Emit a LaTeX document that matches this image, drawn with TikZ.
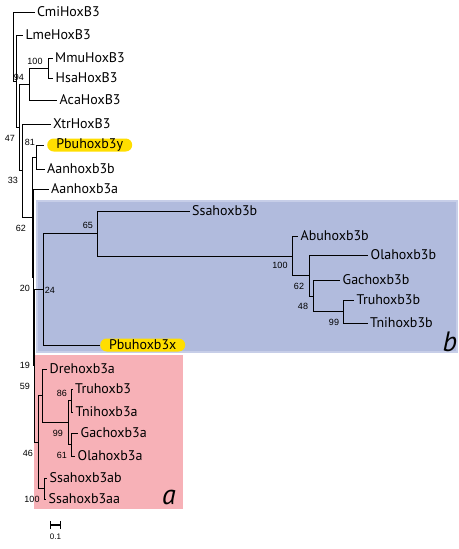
\documentclass[tikz,border=0pt]{standalone}
\usepackage{fontspec}
\setmainfont{PT Sans}
\newfontfamily\bootfont{Liberation Sans}
\definecolor{cladeblue}{RGB}{177,187,221}
\definecolor{cladebluerim}{RGB}{199,206,232}
\definecolor{cladered}{RGB}{247,177,183}
\definecolor{markyellow}{RGB}{255,222,0}

\begin{document}
\begin{tikzpicture}[
    x=1pt, y=-1pt,
    taxon/.style={
        anchor=west,
        inner xsep=2.5pt,
        inner ysep=0pt,
        font=\fontsize{14}{14}\selectfont
    },
    marked taxon/.style={
        taxon,
        fill=markyellow,
        rounded corners=6.5pt,
        minimum width=85pt,
        minimum height=13pt,
        inner xsep=0pt
    },
    boot/.style={
        font=\bootfont\fontsize{9}{9}\selectfont,
        inner sep=0pt
    },
    branch/.style={
        line width=0.8pt,
        black
    },
    clade letter/.style={
        font=\fontsize{28}{28}\selectfont\itshape,
        anchor=base,
        inner sep=0pt
    }
]
\useasboundingbox (0,0) rectangle (458,549);

%% --- Clade boxes ---
\fill[cladeblue, draw=cladebluerim, line width=1.5pt] (37,201) rectangle (457,352);
\fill[cladered] (34,355) rectangle (183,509);
\node[clade letter] (cb) at (450,351) {b};
\node[clade letter] (ca) at (169,504) {a};

%% --- Internal nodes ---
\coordinate (root)  at (13,46.5);
\coordinate (n1)    at (16,81);
\coordinate (n2)    at (19,127.5);
\coordinate (nAmn)  at (29,84);
\coordinate (nMam)  at (48,68);
\coordinate (n3)    at (22,170.5);
\coordinate (nb)    at (32,217);
\coordinate (nPA)   at (36,157);
\coordinate (na)    at (33,277);
\coordinate (nc)    at (34.5,365.5);
\coordinate (nBlue) at (43,289);
\coordinate (nSsa)  at (97,233.5);
\coordinate (nAbu)  at (292,256);
\coordinate (nOla)  at (309,275.5);
\coordinate (nGac)  at (313,296);
\coordinate (nTru)  at (343,311.5);
\coordinate (nRed)  at (38,442);
\coordinate (nDre)  at (42,395.5);
\coordinate (nPerc) at (68,422.5);
\coordinate (nTet)  at (71,400.5);
\coordinate (nGO)   at (71,444.5);
\coordinate (nSsaa) at (44,488.5);

%% --- Taxa ---
\node[taxon] (tCmi)   at (34.5,12)  {CmiHoxB3};
\node[taxon] (tLme)   at (23,35)    {LmeHoxB3};
\node[taxon] (tMmu)   at (52.5,58)  {MmuHoxB3};
\node[taxon] (tHsa)   at (53,78)    {HsaHoxB3};
\node[taxon] (tAca)   at (57,100)   {AcaHoxB3};
\node[taxon] (tXtr)   at (50.5,124) {XtrHoxB3};
\node[marked taxon] (tPbuy) at (47,145) {Pbuhoxb3y};
\node[taxon] (tAanb)  at (44.5,169) {Aanhoxb3b};
\node[taxon] (tAana)  at (48.5,189) {Aanhoxb3a};
\node[taxon] (tSsab)  at (189.5,211) {Ssahoxb3b};
\node[taxon] (tAbub)  at (298,236)  {Abuhoxb3b};
\node[taxon] (tOlab)  at (368,255)  {Olahoxb3b};
\node[taxon] (tGacb)  at (340,280)  {Gachoxb3b};
\node[taxon] (tTrub)  at (354,300)  {Truhoxb3b};
\node[taxon] (tTnib)  at (367.5,323) {Tnihoxb3b};
\node[marked taxon] (tPbux) at (100,345) {Pbuhoxb3x};
\node[taxon] (tDre)   at (47,369)   {Drehoxb3a};
\node[taxon] (tTru)   at (72.5,389) {Truhoxb3};
\node[taxon] (tTnia)  at (73,412)   {Tnihoxb3a};
\node[taxon] (tGaca)  at (78,433)   {Gachoxb3a};
\node[taxon] (tOlaa)  at (75,456)   {Olahoxb3a};
\node[taxon] (tSsaab) at (47,478)   {Ssahoxb3ab};
\node[taxon] (tSsaaa) at (46,499)   {Ssahoxb3aa};

%% --- Branches ---
\draw[branch] (root) |- (tCmi);
\draw[branch] (root) |- (n1);
\draw[branch] (n1) |- (tLme);
\draw[branch] (n1) |- (n2);
\draw[branch] (n2) |- (nAmn);
\draw[branch] (n2) |- (n3);
\draw[branch] (nAmn) |- (nMam);
\draw[branch] (nAmn) |- (tAca);
\draw[branch] (nMam) |- (tMmu);
\draw[branch] (nMam) |- (tHsa);
\draw[branch] (n3) |- (tXtr);
\draw[branch] (n3) |- (nb);
\draw[branch] (nb) |- (nPA);
\draw[branch] (nb) |- (na);
\draw[branch, shorten >=3pt] (nPA) |- (tPbuy);
\draw[branch] (nPA) |- (tAanb);
\draw[branch] (na) |- (tAana);
\draw[branch] (na) |- (nc);
\draw[branch] (nc) |- (nBlue);
\draw[branch] (nc) |- (nRed);
%% clade b
\draw[branch] (nBlue) |- (nSsa);
\draw[branch] (nBlue) |- (tPbux);
\draw[branch] (nSsa) |- (tSsab);
\draw[branch] (nSsa) |- (nAbu);
\draw[branch] (nAbu) |- (tAbub);
\draw[branch] (nAbu) |- (nOla);
\draw[branch] (nOla) |- (tOlab);
\draw[branch] (nOla) |- (nGac);
\draw[branch] (nGac) |- (tGacb);
\draw[branch] (nGac) |- (nTru);
\draw[branch] (nTru) |- (tTrub);
\draw[branch] (nTru) |- (tTnib);
%% clade a
\draw[branch] (nRed) |- (nDre);
\draw[branch] (nRed) |- (nSsaa);
\draw[branch] (nDre) |- (tDre);
\draw[branch] (nDre) |- (nPerc);
\draw[branch] (nPerc) |- (nTet);
\draw[branch] (nPerc) |- (nGO);
\draw[branch] (nTet) |- (tTru);
\draw[branch] (nTet) |- (tTnia);
\draw[branch] (nGO) |- (tGaca);
\draw[branch] (nGO) |- (tOlaa);
\draw[branch] (nSsaa) |- (tSsaab);
\draw[branch] (nSsaa) |- (tSsaaa);

%% --- Bootstrap values ---
\node[boot] (b100m) at (35,61)  {100};
\node[boot] (b94)   at (19,77)  {94};
\node[boot] (b47)   at (10,138) {47};
\node[boot] (b81)   at (30,142) {81};
\node[boot] (b33)   at (13,180) {33};
\node[boot] (b62)   at (21,228) {62};
\node[boot] (b65)   at (88,225) {65};
\node[boot] (b20)   at (25,288) {20};
\node[boot] (b24)   at (50,290) {24};
\node[boot] (b100a) at (280,265) {100};
\node[boot] (b62o)  at (299,286) {62};
\node[boot] (b48)   at (303,306) {48};
\node[boot] (b99t)  at (334,322) {99};
\node[boot] (b19)   at (25,365) {19};
\node[boot] (b59)   at (25,386) {59};
\node[boot] (b86)   at (62,393) {86};
\node[boot] (b99p)  at (58,433) {99};
\node[boot] (b61)   at (62,455) {61};
\node[boot] (b46)   at (28,453) {46};
\node[boot] (b100s) at (32,499) {100};

%% --- Scale bar ---
\coordinate (sL) at (50,525);
\coordinate (sR) at (61,525);
\draw[line width=1.2pt, |-|] (sL) -- (sR);
\node[boot, font=\bootfont\fontsize{8}{8}\selectfont] (sLab) at (55.5,537) {0.1};

\end{tikzpicture}
\end{document}
